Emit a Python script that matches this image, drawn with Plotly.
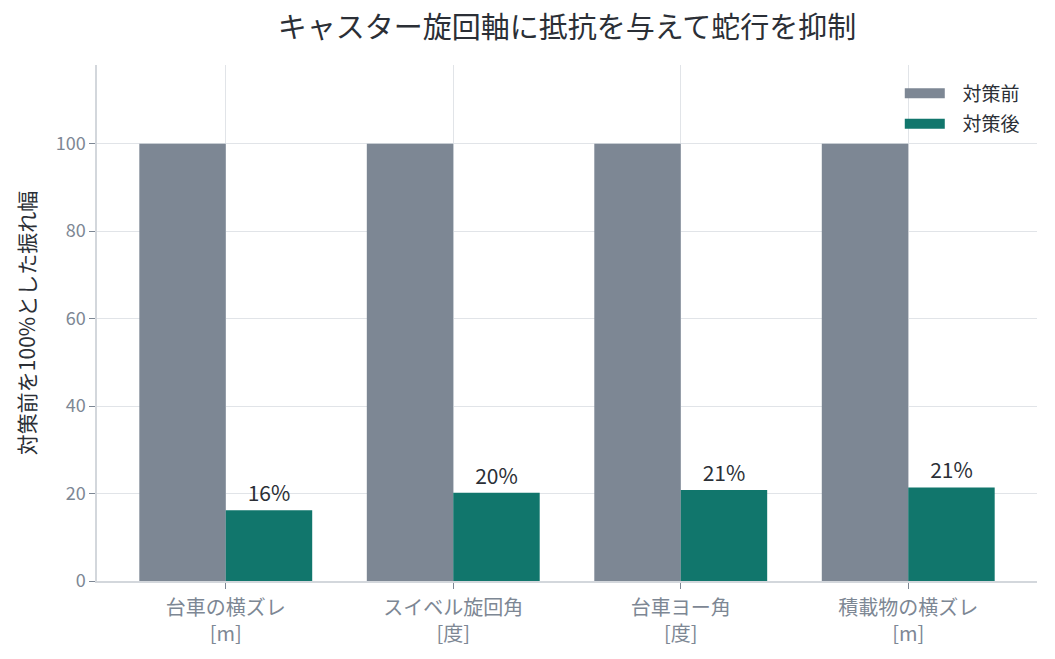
import plotly.graph_objects as go

categories = ["台車の横ズレ<br>[m]", "スイベル旋回角<br>[度]", "台車ヨー角<br>[度]", "積載物の横ズレ<br>[m]"]
before_vals = [100, 100, 100, 100]
after_vals = [16.2, 20.2, 20.8, 21.4]
after_labels = [f"{v:.0f}%" for v in after_vals]
y_ticks = [0, 20, 40, 60, 80, 100]

GRAY = "#7d8794"
TEAL = "#11766c"
DARK = "#2b2f36"
FONT = "Noto Sans CJK JP"
NB = "\u00a0\u00a0\u00a0"

fig = go.Figure()
fig.add_trace(go.Bar(x=categories, y=before_vals, name="対策前", marker_color=GRAY,
                     marker_line_width=0, showlegend=False, hoverinfo="skip"))
fig.add_trace(go.Bar(x=categories, y=after_vals, name="対策後", marker_color=TEAL,
                     marker_line_width=0,
                     text=after_labels, textposition="outside",
                     textfont=dict(size=21, color=DARK, family=FONT),
                     cliponaxis=False, showlegend=False))
# legend swatches
fig.add_trace(go.Scatter(x=[None], y=[None], mode="lines", name=NB + "対策前",
                         legendgroup="a", line=dict(color=GRAY, width=14)))
fig.add_trace(go.Scatter(x=[None], y=[None], mode="lines", name=NB + "対策後",
                         legendgroup="b", line=dict(color=TEAL, width=14)))

fig.update_layout(
    width=1055, height=659,
    margin=dict(l=97, r=18, t=65, b=78),
    paper_bgcolor="white", plot_bgcolor="white",
    font=dict(family=FONT, size=17, color=DARK),
    title=dict(text="キャスター旋回軸に抵抗を与えて蛇行を抑制", x=0.5, xref="paper",
               y=0.957, yref="container", xanchor="center", yanchor="middle",
               font=dict(size=29, color=DARK, family=FONT)),
    barmode="group", bargap=0.24, bargroupgap=0,
    legend=dict(x=0.987, y=0.982, xanchor="right", yanchor="top", bgcolor="rgba(0,0,0,0)",
                font=dict(size=19, color=DARK), itemwidth=40, tracegroupgap=3),
)
fig.update_xaxes(range=[-0.566, 3.566], showgrid=True, gridcolor="#e1e4e8",
                 showline=True, linecolor="#d3d7dc", linewidth=1.5,
                 ticks="outside", ticklen=6, tickcolor="#7d8794", ticklabelstandoff=2,
                 tickfont=dict(size=20, color="#7d8794"))
fig.update_yaxes(range=[0, 118], tickvals=y_ticks, showgrid=True, gridcolor="#e1e4e8",
                 gridwidth=1.2, zeroline=False,
                 showline=True, linecolor="#d3d7dc", linewidth=1.5,
                 ticks="outside", ticklen=6, tickcolor="#7d8794",
                 tickfont=dict(size=18, color="#7d8794"),
                 title=dict(text="対策前を100%とした振れ幅", font=dict(size=21, color=DARK),
                            standoff=14))

fig.write_html("out.html", config={"displayModeBar": False},
               post_script="document.body.style.margin='0';")
